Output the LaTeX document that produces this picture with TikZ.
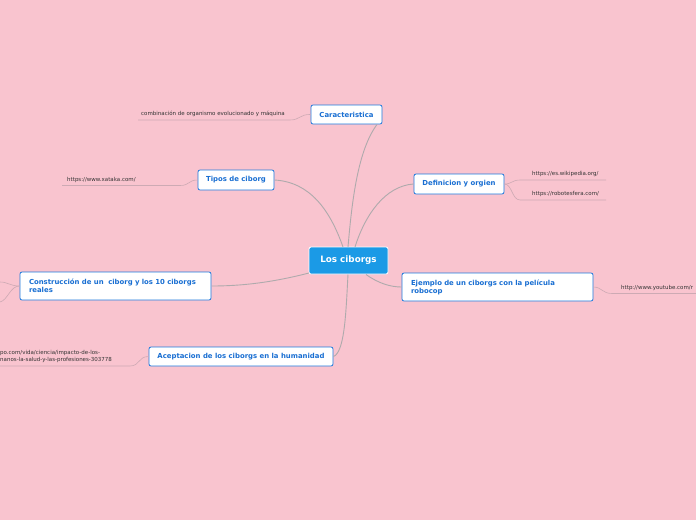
\documentclass[tikz,border=0pt]{standalone}
\usepackage{fontspec}
\setmainfont{DejaVu Sans}
\begin{document}
\begin{tikzpicture}[x=1pt,y=-1pt,
  topic/.style={draw=bordblue,line width=0.8pt,fill=white,rounded corners=2pt,font=\bfseries\fontsize{6.9}{8}\selectfont,text=txtblue,inner sep=0pt},
  leaf/.style={font=\fontsize{5.5}{7}\selectfont,text=black!80,inner sep=0pt,anchor=west,align=left},
  conn/.style={draw=linegray,line width=0.9pt},
  lconn/.style={draw=leafgray,line width=0.6pt}]
\definecolor{bgpink}{RGB}{249,196,207}
\definecolor{bordblue}{RGB}{30,120,220}
\definecolor{txtblue}{RGB}{24,110,210}
\definecolor{rootblue}{RGB}{27,154,230}
\definecolor{linegray}{RGB}{175,170,172}
\definecolor{leafgray}{RGB}{205,170,180}
\fill[bgpink] (0,0) rectangle (696,520);
\useasboundingbox (0,0) rectangle (696,520);

% root
\node[fill=rootblue,draw=white,line width=0.8pt,rounded corners=2pt,minimum width=79pt,minimum height=27pt,inner sep=0pt,text=white,font=\bfseries\fontsize{8.8}{10}\selectfont] (root) at (348.5,260.5) {Los ciborgs};

% topics
\node[topic,minimum width=71pt,minimum height=19pt] (car) at (346.5,114.5) {Caracteristica};
\node[topic,minimum width=76pt,minimum height=20pt] (tip) at (236,180) {Tipos de ciborg};
\node[topic,minimum width=90pt,minimum height=20pt] (def) at (459,184) {Definicion y orgien};
\node[topic,minimum width=191pt,minimum height=28pt,text width=173pt,align=left] (con) at (115.5,286) {Construcción de un\ \ ciborg y los 10 ciborgs\\reales};
\node[topic,minimum width=191pt,minimum height=28pt,text width=173pt,align=left] (eje) at (497.5,287) {Ejemplo de un ciborgs con la película\\robocop};
\node[topic,minimum width=184pt,minimum height=19pt] (ace) at (241,356.5) {Aceptacion de los ciborgs en la humanidad};

% root connectors
\draw[conn] (348,247) .. controls (352,200) and (358,150) .. (377,124.5);
\draw[conn] (343,247) .. controls (330,210) and (310,182) .. (274.5,180);
\draw[conn] (355,247) .. controls (365,215) and (385,186) .. (413.5,184);
\draw[conn] (309,273) .. controls (270,283) and (240,286) .. (211.5,286);
\draw[conn] (366,274.5) .. controls (378,283) and (390,287) .. (401.5,287);
\draw[conn] (348,274.5) .. controls (346,310) and (345,352) .. (333.5,356.5);

% leaves
\node[leaf] (l1) at (141,114) {combinación de organismo evolucionado y máquina};
\coordinate (l1a) at (138,120);
\coordinate (l1b) at (290,120);
\draw[lconn] (l1a) -- (l1b) .. controls (300,120) and (300,114) .. (car.west);

\node[leaf] (l2) at (67,180) {https://www.xataka.com/};
\coordinate (l2a) at (62,185.5);
\coordinate (l2b) at (180,185.5);
\draw[lconn] (l2a) -- (l2b) .. controls (190,185.5) and (188,180) .. (tip.west);

\node[leaf] (l3) at (532,174) {https://es.wikipedia.org/};
\coordinate (l3a) at (606,180);
\coordinate (l3b) at (520,180);
\draw[lconn] (l3a) -- (l3b) .. controls (512,180) and (512,184) .. (def.east);
\node[leaf] (l4) at (532,194) {https://robotesfera.com/};
\coordinate (l4a) at (606,200);
\coordinate (l4b) at (520,200);
\draw[lconn] (l4a) -- (l4b) .. controls (512,200) and (512,184) .. (def.east);

\node[leaf] (l5) at (621,288) {http://www.youtube.com/r};
\coordinate (l5a) at (696,293.5);
\coordinate (l5b) at (612,293.5);
\draw[lconn] (l5a) -- (l5b) .. controls (602,293.5) and (602,287) .. (eje.east);

\node[leaf] (l6) at (0,356) {po.com/vida/ciencia/impacto-de-los-\\nanos-la-salud-y-las-profesiones-303778};
\coordinate (l6a) at (0,366);
\coordinate (l6b) at (130,366);
\draw[lconn] (l6a) -- (l6b) .. controls (140,366) and (138,356.5) .. (ace.west);

\coordinate (l7) at (0,282);
\coordinate (l8) at (0,302);
\draw[lconn] (con.west) .. controls (10,286) and (8,282) .. (l7);
\draw[lconn] (con.west) .. controls (10,286) and (8,300) .. (l8);
\end{tikzpicture}
\end{document}
